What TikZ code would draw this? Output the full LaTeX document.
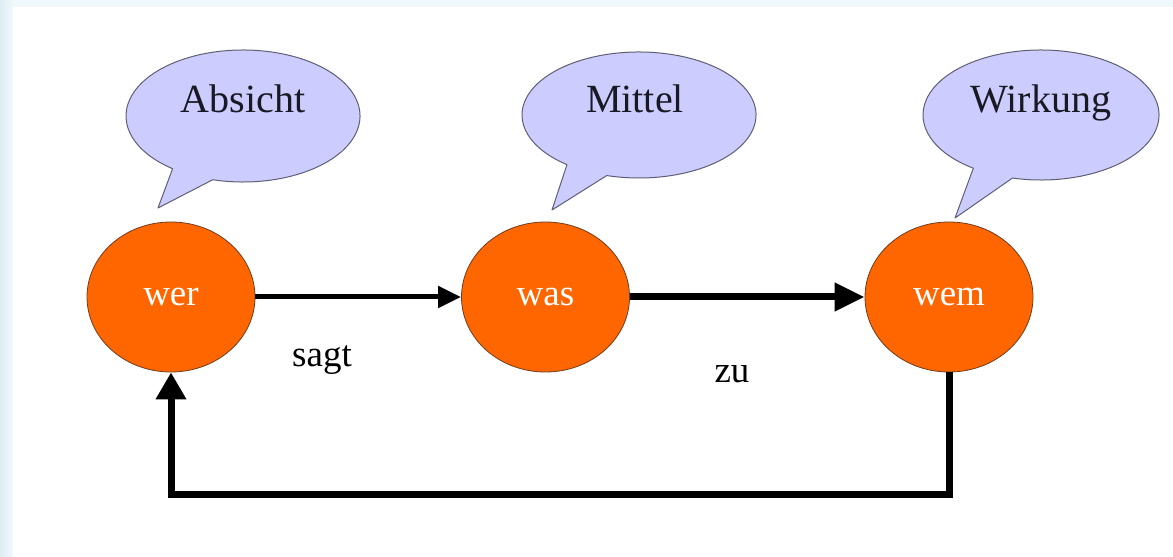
\documentclass[tikz,border=0pt]{standalone}
\usepackage{fontspec}
\setmainfont{Liberation Serif}
\usetikzlibrary{arrows.meta,shapes.geometric}
\definecolor{orng}{RGB}{255,102,0}
\definecolor{circline}{RGB}{110,60,30}
\definecolor{bubfill}{RGB}{204,204,255}
\definecolor{bubline}{RGB}{95,95,115}
\definecolor{topbg}{RGB}{240,248,251}
\definecolor{leftbg}{RGB}{222,236,243}
\begin{document}
\begin{tikzpicture}[x=1pt,y=1pt,
  circ/.style={ellipse, fill=orng, draw=circline, line width=0.8pt,
    minimum width=168pt, minimum height=150pt, inner sep=0pt,
    text=white, font=\fontsize{37}{40}\selectfont},
  bubble/.style={fill=bubfill, draw=bubline, line width=1pt, line join=round},
  btext/.style={anchor=base, text={rgb,255:red,25;green,25;blue,35}, font=\fontsize{40}{44}\selectfont, inner sep=0pt},
  lbl/.style={anchor=base, text=black, font=\fontsize{37}{40}\selectfont, inner sep=0pt},
  aone/.style={line width=5pt, -{Triangle[length=23pt,width=21pt]}},
  atwo/.style={line width=7pt, -{Triangle[length=30pt,width=27pt]}},
  fback/.style={line width=7pt, line join=miter, -{Triangle[length=27pt,width=29pt]}}
]
\useasboundingbox (0,0) rectangle (1173,557);
% background frame
\fill[topbg] (0,0) rectangle (1173,557);
\fill[left color=leftbg, right color=topbg] (0,0) rectangle (13,557);
\fill[white] (13,0) rectangle (1173,550);

% speech bubbles
\path[bubble] (243,441) ++(255:117 and 66) arc[start angle=255, end angle=593, x radius=117, y radius=66] -- (158,349) -- cycle;
\path[bubble] (639,442) ++(254:117 and 63) arc[start angle=254, end angle=592, x radius=117, y radius=63] -- (552,347) -- cycle;
\path[bubble] (1041,442) ++(256:118 and 65) arc[start angle=256, end angle=595, x radius=118, y radius=65] -- (955,339) -- cycle;
\node[btext] (absicht) at (243,444) {Absicht};
\node[btext] (mittel) at (635,444) {Mittel};
\node[btext] (wirkung) at (1041,444) {Wirkung};

% circles
\node[circ] (wer) at (171,260) {wer};
\node[circ] (was) at (545.5,260) {was};
\node[circ] (wem) at (949,260) {wem};

% connectors
\draw[aone] (wer) -- (was);
\draw[atwo] (was) -- (wem);
\draw[fback] (wem.south) -- ++(0,-122) -| (wer.south);

% labels
\node[lbl] (sagt) at (322,190) {sagt};
\node[lbl] (zu) at (732,174) {zu};
\end{tikzpicture}
\end{document}
